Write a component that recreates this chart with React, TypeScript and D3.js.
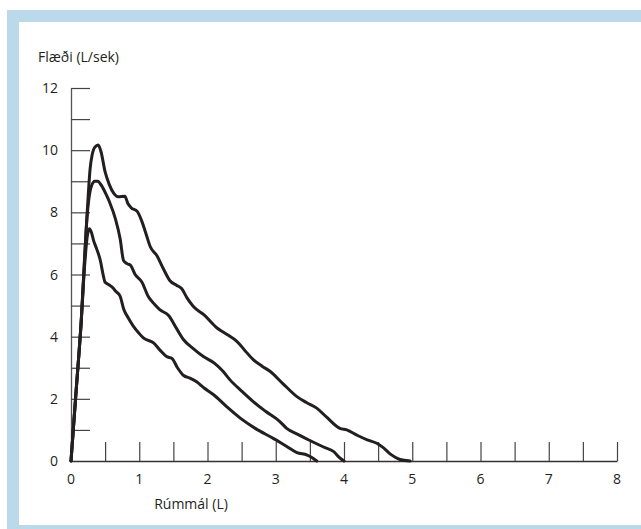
import React, { useEffect, useRef } from "react";
import * as d3 from "d3";

// volume (L), flow (L/sek) pairs
const curveLarge: [number, number][] = [
  [0, 0], [0.08, 2.4], [0.15, 4.5], [0.2, 6.6], [0.24, 8.1], [0.28, 9.4], [0.31, 9.85],
  [0.35, 10.1], [0.4, 10.17], [0.44, 9.95], [0.5, 9.3], [0.56, 8.9], [0.63, 8.6],
  [0.69, 8.5], [0.79, 8.52], [0.83, 8.3], [0.88, 8.15], [0.97, 8.03], [1.04, 7.7],
  [1.1, 7.3], [1.16, 6.9], [1.26, 6.6], [1.35, 6.2], [1.45, 5.8], [1.55, 5.65],
  [1.62, 5.55], [1.7, 5.25], [1.79, 4.98], [1.95, 4.7], [2.14, 4.28], [2.3, 4.05],
  [2.43, 3.85], [2.55, 3.55], [2.67, 3.26], [2.8, 3.05], [2.92, 2.88], [3.1, 2.5],
  [3.31, 2.07], [3.45, 1.88], [3.6, 1.7], [3.75, 1.4], [3.94, 1.05], [4.04, 1.0],
  [4.2, 0.82], [4.34, 0.68], [4.48, 0.57], [4.58, 0.42], [4.68, 0.22], [4.82, 0.05],
  [4.97, 0],
];
const curveMiddle: [number, number][] = [
  [0, 0], [0.08, 2.4], [0.15, 4.5], [0.2, 6.5], [0.23, 7.7], [0.26, 8.4], [0.3, 8.85],
  [0.35, 9.0], [0.39, 9.0], [0.45, 8.85], [0.52, 8.55], [0.57, 8.3], [0.65, 7.8],
  [0.72, 7.15], [0.77, 6.45], [0.82, 6.35], [0.87, 6.3], [0.94, 6.0], [1.04, 5.75],
  [1.13, 5.3], [1.22, 5.05], [1.3, 4.87], [1.43, 4.68], [1.55, 4.25], [1.65, 3.9],
  [1.8, 3.6], [1.94, 3.36], [2.1, 3.15], [2.23, 2.88], [2.33, 2.61], [2.5, 2.25],
  [2.67, 1.91], [2.85, 1.6], [3.06, 1.27], [3.16, 1.05], [3.33, 0.85], [3.5, 0.66],
  [3.7, 0.45], [3.85, 0.3], [3.93, 0.12], [4.0, 0],
];
const curveSmall: [number, number][] = [
  [0, 0], [0.08, 2.4], [0.15, 4.5], [0.2, 6.3], [0.24, 7.25], [0.27, 7.47], [0.3, 7.35],
  [0.33, 7.1], [0.38, 6.8], [0.43, 6.45], [0.47, 6.0], [0.5, 5.75], [0.55, 5.68],
  [0.6, 5.6], [0.66, 5.45], [0.72, 5.3], [0.77, 4.9], [0.84, 4.6], [0.91, 4.35],
  [1.0, 4.1], [1.06, 3.96], [1.21, 3.8], [1.31, 3.55], [1.4, 3.36], [1.48, 3.3],
  [1.56, 3.0], [1.65, 2.75], [1.75, 2.66], [1.84, 2.55], [1.95, 2.35], [2.09, 2.13],
  [2.28, 1.75], [2.48, 1.38], [2.7, 1.05], [2.97, 0.72], [3.15, 0.48], [3.31, 0.27],
  [3.46, 0.19], [3.54, 0.1], [3.6, 0],
];

const xTickMarks = d3.range(0.5, 8.01, 0.5);
const xTickLabels = [0, 1, 2, 3, 4, 5, 6, 7, 8];
const yTickMarks = d3.range(1, 12.01, 1);
const yTickLabels = [0, 2, 4, 6, 8, 10, 12];

const yTitle = "Flæði (L/sek)";
const xTitle = "Rúmmál (L)";

const App = () => {
  const svgRef = useRef<SVGSVGElement | null>(null);

  useEffect(() => {
    const svg = d3.select(svgRef.current);
    svg.selectAll("*").remove();

    const width = 641;
    const height = 529;
    const font = "'Open Sans', 'DejaVu Sans', sans-serif";
    const ink = "#231f20";

    // frame
    svg.append("rect").attr("width", width).attr("height", height).attr("fill", "#fff");
    svg.append("rect")
      .attr("x", 7).attr("y", 10)
      .attr("width", width - 7).attr("height", height - 10)
      .attr("fill", "#bad9e9");
    svg.append("rect")
      .attr("x", 19).attr("y", 22)
      .attr("width", width - 19).attr("height", 503)
      .attr("fill", "#fff");

    const x = d3.scaleLinear().domain([0, 8]).range([71, 617]);
    const y = d3.scaleLinear().domain([0, 12]).range([461, 88]);

    // x axis, ticks pointing up
    const gx = svg.append("g").attr("transform", `translate(0, ${y(0)})`);
    gx.call(
      d3.axisBottom(x)
        .tickValues(xTickMarks)
        .tickSize(-19)
        .tickSizeOuter(0)
        .tickFormat(() => "")
    );
    gx.select(".domain").attr("stroke", "#333").attr("stroke-width", 1.3);
    gx.selectAll(".tick line").attr("stroke", "#444").attr("stroke-width", 1.2);

    // y axis, ticks pointing right
    const gy = svg.append("g").attr("transform", `translate(${x(0)}, 0)`);
    gy.call(
      d3.axisRight(y)
        .tickValues(yTickMarks)
        .tickSize(19)
        .tickSizeOuter(0)
        .tickFormat(() => "")
    );
    gy.select(".domain").attr("stroke", "#555").attr("stroke-width", 1.3);
    gy.selectAll(".tick line").attr("stroke", "#444").attr("stroke-width", 1.2);

    svg.append("g")
      .selectAll("text")
      .data(xTickLabels)
      .enter()
      .append("text")
      .attr("x", d => x(d))
      .attr("y", 484)
      .attr("text-anchor", "middle")
      .style("font-family", font)
      .style("font-size", "14px")
      .attr("fill", ink)
      .text(d => d);

    svg.append("g")
      .selectAll("text")
      .data(yTickLabels)
      .enter()
      .append("text")
      .attr("x", 58)
      .attr("y", d => y(d))
      .attr("dy", "0.36em")
      .attr("text-anchor", "end")
      .style("font-family", font)
      .style("font-size", "14px")
      .attr("fill", ink)
      .text(d => d);

    svg.append("text")
      .attr("x", 38).attr("y", 62)
      .style("font-family", font)
      .style("font-size", "14px")
      .attr("fill", ink)
      .text(yTitle);

    svg.append("text")
      .attr("x", 191).attr("y", 509)
      .attr("text-anchor", "middle")
      .style("font-family", font)
      .style("font-size", "14px")
      .attr("fill", ink)
      .text(xTitle);

    // flow-volume curves
    const line = d3.line<[number, number]>()
      .x(d => x(d[0]))
      .y(d => y(d[1]))
      .curve(d3.curveMonotoneX);

    svg.append("g")
      .selectAll("path")
      .data([curveLarge, curveMiddle, curveSmall])
      .enter()
      .append("path")
      .attr("d", d => line(d))
      .attr("fill", "none")
      .attr("stroke", ink)
      .attr("stroke-width", 3)
      .attr("stroke-linejoin", "round")
      .attr("stroke-linecap", "round");
  }, []);

  return (
    <svg
      ref={svgRef}
      width={641}
      height={529}
      style={{ position: "absolute", left: 0, top: 0, display: "block" }}
    />
  );
};

export default App;
